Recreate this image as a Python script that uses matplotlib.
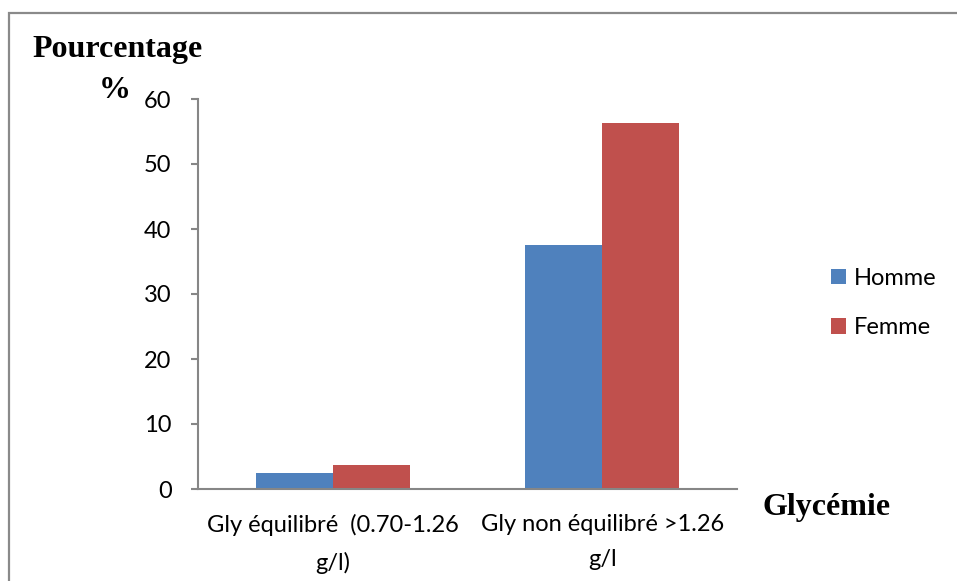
import matplotlib
matplotlib.use("Agg")
import matplotlib.pyplot as plt
import numpy as np
from matplotlib.patches import Rectangle

categories = ["Gly équilibré  (0.70-1.26\ng/l)", "Gly non équilibré >1.26\ng/l"]
series_names = ["Homme", "Femme"]
homme = [2.5, 37.5]
femme = [3.75, 56.25]
yticks = [0, 10, 20, 30, 40, 50, 60]

colors = ["#4F81BD", "#C0504D"]
axis_gray = "#868686"
sans = ["Lato", "DejaVu Sans"]
serif = ["Liberation Serif", "DejaVu Serif"]

W, H = 957, 581
fig = plt.figure(figsize=(W / 100, H / 100), dpi=100)

# chart frame (left and top edges visible)
fig.patches.append(Rectangle((9 / W, -0.01), 1.05, 1 - 13 / H + 0.01,
                             transform=fig.transFigure, fill=False,
                             edgecolor="#8A8A8A", linewidth=1.6))

ax = fig.add_axes([198 / W, 1 - 489 / H, (737 - 198) / W, (489 - 99) / H])

x = np.arange(len(categories))
bw = 1 / 3.5
ax.bar(x - bw / 2, homme, width=bw, color=colors[0], label=series_names[0], zorder=2)
ax.bar(x + bw / 2, femme, width=bw, color=colors[1], label=series_names[1], zorder=2)

ax.set_xlim(-0.5, 1.5)
ax.set_ylim(0, 60)
ax.set_yticks(yticks)
ax.set_yticklabels([str(t) for t in yticks], fontsize=17, family=sans)
ax.set_xticks(x)
ax.set_xticklabels(categories, fontsize=17, family=sans, linespacing=1.85)
ax.tick_params(axis="x", length=0, pad=18)
ax.tick_params(axis="y", length=5, width=1.5, color=axis_gray, pad=14)

for side in ["top", "right"]:
    ax.spines[side].set_visible(False)
for side in ["left", "bottom"]:
    ax.spines[side].set_color(axis_gray)
    ax.spines[side].set_linewidth(1.5)

fig.text(32 / W, 1 - 50 / H, "Pourcentage", family=serif, weight="bold",
         fontsize=23, va="center", ha="left")
fig.text(115 / W, 1 - 90 / H, "%", family=serif, weight="bold",
         fontsize=23, va="center", ha="center")
fig.text(827 / W, 1 - 507 / H, "Glycémie", family=serif, weight="bold",
         fontsize=23, va="center", ha="center")

leg = ax.legend(loc="center left", bbox_to_anchor=(831 / W, 1 - 303 / H),
                bbox_transform=fig.transFigure, frameon=False,
                prop={"family": sans, "size": 17}, handlelength=0.64,
                handleheight=0.64, handletextpad=0.34, labelspacing=1.2,
                borderpad=0, borderaxespad=0)

fig.savefig("out.png", dpi=100)
